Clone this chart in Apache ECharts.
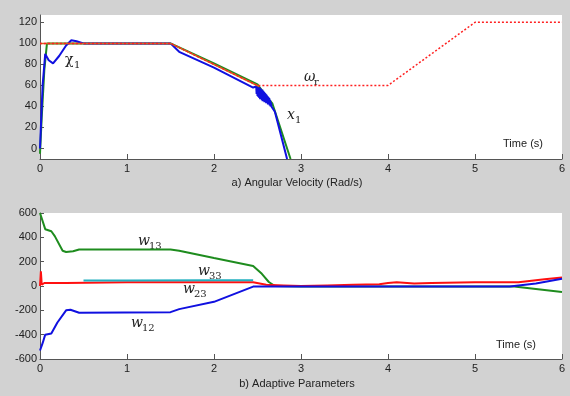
<!DOCTYPE html>
<html><head><meta charset="utf-8">
<script src="https://cdn.jsdelivr.net/npm/echarts@6/dist/echarts.min.js"></script>
<style>html,body{margin:0;padding:0;background:#d2d2d2}#c{width:570px;height:396px}</style>
</head><body><div id="c"></div>
<script>
// ---- top panel: angular velocity ----
const refT = [0, 1.5, 2.5, 4, 5, 6];
const refV = [100, 100, 60, 60, 120, 120];
const modelT = [0, 1.5, 2.52];
const modelV = [100, 100, 59];
const x1GreenT = [0, 0.02, 0.05, 0.08, 1.5, 2.0, 2.5, 2.57, 2.67, 2.88];
const x1GreenV = [-5, 30, 75, 100, 100, 81, 61, 53, 43, -10];
const x1BlueT = [0, 0.03, 0.06, 0.1, 0.15, 0.22, 0.3, 0.36, 0.42, 0.5, 1.5, 1.6, 2.0, 2.45,
  2.485, 2.49, 2.495, 2.5, 2.505, 2.51, 2.515, 2.52, 2.525, 2.53, 2.535, 2.54, 2.545, 2.55, 2.555, 2.56,
  2.565, 2.57, 2.575, 2.58, 2.585, 2.59, 2.595, 2.6, 2.605, 2.61, 2.615, 2.62, 2.625, 2.63, 2.635, 2.64,
  2.645, 2.65, 2.655, 2.66, 2.7, 2.84];
const x1BlueV = [0, 60, 90, 84, 81, 88, 98, 103, 102, 100, 100, 92, 77, 58,
  59, 52, 60, 50, 59, 49, 58, 48, 58, 47, 57, 47, 56, 46, 56, 45,
  55, 45, 54, 44, 53, 44, 52, 43, 51, 43, 50, 42, 49, 42, 48, 41,
  46, 40, 44, 40, 35, -10];
const topYTicks = [0, 20, 40, 60, 80, 100, 120];

// ---- bottom panel: adaptive parameters ----
const w13T = [0, 0.06, 0.13, 0.17, 0.26, 0.3, 0.38, 0.45, 1.5, 1.6, 2.0, 2.45, 2.55, 2.63, 2.7, 3, 4, 5, 5.45, 5.7, 6];
const w13V = [600, 467, 450, 410, 290, 280, 285, 300, 300, 290, 230, 165, 100, 33, 0, -5, -5, -5, -5, -25, -50];
const w12T = [0, 0.03, 0.06, 0.13, 0.2, 0.3, 0.35, 0.45, 1.5, 1.6, 2.0, 2.45, 2.5, 3, 4, 5, 5.4, 5.7, 6];
const w12V = [-530, -470, -400, -390, -300, -200, -195, -220, -215, -190, -130, -5, -5, -5, -5, -5, -5, 20, 60];
const w23T = [0, 0.01, 0.02, 0.05, 0.3, 1, 2, 2.45, 2.6, 2.8, 3, 3.3, 3.6, 3.9, 4.0, 4.1, 4.3, 4.5, 5, 5.5, 5.8, 6];
const w23V = [0, 120, 10, 25, 25, 30, 30, 30, 10, 5, 0, 5, 10, 15, 25, 30, 20, 25, 30, 30, 55, 70];
const w33T = [0.5, 1, 2, 2.45];
const w33V = [45, 45, 48, 48];
const botYTicks = [-600, -400, -200, 0, 200, 400, 600];

const pts = (t, v) => t.map((x, i) => [x, v[i]]);

const axisCol = '#555';
const labCol = '#222';
const font = 'Liberation Sans, Arial, sans-serif';

function xAx(grid) {
  return {
    type: 'value', gridIndex: grid, min: 0, max: 6, interval: 1,
    axisLine: {show: true, onZero: false, lineStyle: {color: axisCol, width: 1}},
    axisTick: {show: true, inside: true, length: 5, lineStyle: {color: axisCol}},
    axisLabel: {color: labCol, fontSize: 11, fontFamily: font, margin: 4},
    splitLine: {show: false}
  };
}
function yAx(grid, min, max, ticks) {
  return {
    type: 'value', gridIndex: grid, min: min, max: max,
    axisLine: {show: true, onZero: false, lineStyle: {color: axisCol, width: 1}},
    axisTick: {show: true, inside: true, length: 4, customValues: ticks, lineStyle: {color: axisCol}},
    axisLabel: {color: labCol, fontSize: 11, fontFamily: font, margin: 3, customValues: ticks},
    splitLine: {show: false}
  };
}
function line(name, x, y, data, color, width, type) {
  return {
    name: name, type: 'line', xAxisIndex: x, yAxisIndex: y, data: data,
    showSymbol: false, symbol: 'none', animation: false, silent: true,
    lineStyle: {color: color, width: width, type: type || 'solid'}
  };
}
function txt(x, y, s, size, opt) {
  return Object.assign({type: 'text', x: x, y: y, silent: true,
    style: Object.assign({text: s, fill: '#222', font: (size || 11) + 'px ' + font}, opt || {})});
}
function sym(x, y, main, sub, italic, off) {
  return [
    txt(x, y, main, 14, {font: (italic ? 'italic ' : '') + '14px DejaVu Serif, serif', textVerticalAlign: 'middle'}),
    txt(x + off, y + 5, sub, 10, {font: '10px DejaVu Serif, serif', textVerticalAlign: 'middle'})
  ];
}

const chart = echarts.init(document.getElementById('c'), null, {renderer: 'canvas'});
chart.setOption({
  backgroundColor: '#d2d2d2',
  animation: false,
  grid: [
    {left: 40, top: 15, width: 522, height: 144, show: true, backgroundColor: '#fff', borderWidth: 0},
    {left: 40, top: 213, width: 522, height: 146, show: true, backgroundColor: '#fff', borderWidth: 0}
  ],
  xAxis: [xAx(0), xAx(1)],
  yAxis: [yAx(0, -10, 127, topYTicks), yAx(1, -600, 600, botYTicks)],
  series: [
    line('x1', 0, 0, pts(x1GreenT, x1GreenV), '#1e8c1e', 2),
    line('x1hat', 0, 0, pts(x1BlueT, x1BlueV), '#1010e0', 2),
    line('model', 0, 0, pts(modelT, modelV), '#d2691e', 1.5),
    line('omega_r', 0, 0, pts(refT, refV), '#ff2020', 1.5, [2, 2]),
    line('w13', 1, 1, pts(w13T, w13V), '#1e8c1e', 2),
    line('w23', 1, 1, pts(w23T, w23V), '#ff1010', 2),
    line('w33', 1, 1, pts(w33T, w33V), '#20b0c0', 2),
    line('w12', 1, 1, pts(w12T, w12V), '#1010e0', 2)
  ],
  graphic: [
    txt(297, 183, 'a) Angular Velocity (Rad/s)', 11, {textAlign: 'center', textVerticalAlign: 'middle'}),
    txt(297, 384, 'b) Adaptive Parameters', 11, {textAlign: 'center', textVerticalAlign: 'middle'}),
    txt(523, 144, 'Time (s)', 11, {textAlign: 'center', textVerticalAlign: 'middle'}),
    txt(516, 345, 'Time (s)', 11, {textAlign: 'center', textVerticalAlign: 'middle'}),
    ...sym(65, 60, 'χ', '1', false, 9),
    ...sym(304, 77, 'ω', 'r', true, 10),
    ...sym(287, 115, 'x', '1', true, 8),
    ...sym(138, 241, 'w', '13', true, 11),
    ...sym(198, 271, 'w', '33', true, 11),
    ...sym(183, 289, 'w', '23', true, 11),
    ...sym(131, 323, 'w', '12', true, 11)
  ]
});
</script></body></html>
